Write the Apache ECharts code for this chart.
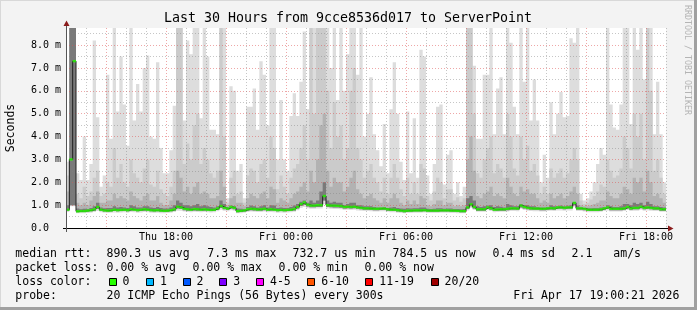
<!DOCTYPE html>
<html><head><meta charset="utf-8">
<script src="https://cdn.jsdelivr.net/npm/echarts@6/dist/echarts.min.js"></script>
<style>html,body{margin:0;padding:0;background:#f3f3f3}#c{width:697px;height:310px}</style>
</head><body><div id="c"></div>
<script>
// 10-minute slots from Thu 13:00 to Fri 19:00 (30 hours, 180 slots), values in ms
const maxV = [
2.9,8.8,8.8,2.4,2.1,4.0,2.1,2.8,8.2,4.85,1.8,2.3,
6.7,3.9,8.8,5.1,7.5,5.4,3.6,8.8,4.7,6.3,5.1,7.0,
7.55,4.0,3.9,7.25,3.5,2.4,2.4,3.4,5.35,8.8,8.8,4.7,
8.2,7.6,8.8,8.8,4.8,8.8,7.5,4.3,4.3,4.1,8.8,8.8,
1.3,6.2,6.0,2.5,2.8,1.3,5.3,5.3,6.1,4.3,7.3,6.7,
4.5,8.8,8.8,3.0,5.6,3.0,2.5,4.9,5.9,4.9,6.4,8.6,
5.2,8.8,8.8,8.8,8.8,8.8,8.8,7.0,8.8,5.6,8.8,6.0,
7.6,8.8,8.8,6.7,8.8,4.0,5.0,6.6,4.1,3.4,2.7,4.55,
2.4,5.2,7.25,5.0,2.9,2.1,5.1,2.4,4.8,2.2,7.8,7.5,
2.3,1.5,2.8,5.3,5.4,1.9,3.2,3.4,1.5,2.0,1.4,1.8,
8.8,8.8,7.1,3.9,3.9,6.7,6.7,8.8,4.1,6.1,6.6,4.1,
8.8,8.1,5.3,4.1,8.8,6.4,8.8,4.7,6.5,4.7,2.0,3.2,
2.2,5.5,4.1,5.0,5.95,4.85,4.9,8.3,8.1,8.8,1.5,1.2,
1.3,1.6,2.0,2.8,3.5,3.2,8.8,5.4,4.4,4.3,5.4,8.8,
8.8,4.55,8.8,7.8,8.8,6.5,8.8,8.8,4.1,6.4,4.1,2.0];
const p90 = [
2.3,8.8,8.8,1.5,1.3,1.8,1.4,1.6,2.2,2.5,1.4,1.5,
2.0,1.8,3.5,2.2,2.8,2.0,1.8,3.0,2.4,2.2,2.0,2.6,
3.0,1.9,1.8,2.5,1.7,1.5,1.4,1.8,2.5,8.8,8.8,2.8,
3.7,3.0,4.5,5.0,2.8,3.5,3.0,2.4,2.2,2.5,8.8,4.0,
1.1,2.2,2.5,1.5,1.6,1.1,2.3,2.6,2.5,2.0,2.8,3.0,
2.2,4.0,3.5,1.7,2.3,1.8,1.5,2.2,2.6,2.8,3.5,4.5,
3.0,8.8,5.0,8.8,8.8,8.8,6.0,3.5,5.5,4.0,4.5,3.0,
3.5,6.0,7.0,3.5,3.0,2.2,2.5,2.8,2.2,2.0,1.6,2.2,
1.5,2.2,2.8,2.2,1.7,1.4,2.2,1.5,2.0,1.5,2.8,2.6,
1.4,1.2,1.6,2.2,2.0,1.3,1.7,1.7,1.2,1.35,1.15,1.3,
8.8,8.8,5.0,2.4,2.2,3.0,3.5,4.0,2.4,2.8,2.6,2.2,
5.0,4.0,2.6,2.3,4.0,3.0,3.6,2.5,2.8,2.3,1.5,1.8,
1.5,2.6,2.2,2.4,2.6,2.2,2.4,3.0,3.5,3.0,1.2,1.05,
1.1,1.25,1.4,1.6,1.9,1.8,3.0,2.5,2.2,2.3,2.6,4.0,
3.5,2.6,5.0,4.0,5.0,3.0,8.8,6.0,2.5,3.0,2.2,1.5];
const p75 = [
1.6,8.8,8.8,1.1,1.0,1.1,1.0,1.2,1.4,1.6,1.1,1.1,
1.2,1.2,1.5,1.3,1.4,1.3,1.2,1.6,1.4,1.3,1.2,1.4,
1.5,1.2,1.2,1.4,1.1,1.0,1.0,1.2,1.5,2.5,2.2,1.6,
1.8,1.5,1.8,2.0,1.5,1.6,1.5,1.3,1.3,1.4,2.5,1.8,
0.98,1.3,1.4,1.1,1.1,0.95,1.3,1.5,1.4,1.3,1.5,1.6,
1.3,1.8,1.7,1.1,1.3,1.2,1.1,1.3,1.5,1.6,1.8,2.0,
1.6,2.5,2.0,3.0,4.5,5.0,2.5,1.8,2.2,2.0,2.0,1.6,
1.8,2.2,2.5,1.7,1.5,1.3,1.4,1.5,1.3,1.2,1.1,1.3,
1.1,1.3,1.5,1.3,1.1,1.0,1.2,1.05,1.2,1.05,1.4,1.3,
1.0,0.95,1.05,1.2,1.2,1.0,1.1,1.1,0.95,1.0,0.95,1.0,
3.0,4.0,2.5,1.4,1.3,1.5,1.6,1.8,1.4,1.5,1.4,1.3,
2.2,1.8,1.5,1.4,1.8,1.6,1.7,1.5,1.5,1.3,1.1,1.2,
1.1,1.5,1.3,1.4,1.5,1.3,1.4,1.6,1.8,1.5,1.0,0.95,
0.95,1.0,1.05,1.1,1.2,1.2,1.6,1.4,1.3,1.3,1.5,1.8,
1.7,1.5,2.2,2.0,2.2,1.6,2.5,2.0,1.4,1.5,1.3,1.1];
const p60 = [
1.0,8.8,8.8,0.85,0.82,0.84,0.83,0.88,0.95,1.1,0.9,0.86,
0.88,0.87,0.95,0.9,0.92,0.9,0.88,1.0,0.95,0.9,0.9,0.95,
0.95,0.9,0.88,0.92,0.87,0.85,0.85,0.9,1.0,1.2,1.1,1.0,
1.0,0.95,1.0,1.05,0.95,1.0,0.95,0.92,0.9,0.95,1.2,1.05,
0.9,0.98,0.95,0.85,0.84,0.83,0.92,0.98,0.95,0.9,0.95,1.0,
0.9,1.0,0.98,0.87,0.9,0.88,0.87,0.92,0.98,1.05,1.15,1.2,
1.1,1.2,1.1,1.2,1.6,2.0,1.2,1.1,1.15,1.1,1.1,1.0,
1.05,1.1,1.1,1.0,1.0,0.95,0.95,0.95,0.92,0.9,0.9,0.92,
0.88,0.9,0.92,0.88,0.85,0.84,0.86,0.85,0.86,0.86,0.9,0.9,
0.84,0.83,0.84,0.86,0.86,0.84,0.85,0.85,0.83,0.83,0.82,0.83,
1.3,1.4,1.2,0.95,0.92,0.95,0.98,1.0,0.92,0.95,0.93,0.9,
1.05,1.0,0.95,0.95,1.05,1.0,1.0,0.95,0.95,0.92,0.9,0.9,
0.92,1.0,0.95,0.96,0.98,0.95,0.97,1.0,1.1,0.98,0.9,0.88,
0.86,0.86,0.87,0.88,0.9,0.92,1.0,0.95,0.92,0.92,0.95,1.05,
1.05,1.0,1.1,1.05,1.1,1.0,1.15,1.05,0.95,0.95,0.92,0.9];
const median = [
0.80,3.0,7.3,0.73,0.74,0.74,0.76,0.78,0.82,0.92,0.80,0.77,
0.76,0.77,0.80,0.78,0.79,0.80,0.78,0.82,0.80,0.78,0.80,0.82,
0.80,0.78,0.77,0.78,0.76,0.75,0.76,0.78,0.82,0.93,0.90,0.84,
0.82,0.80,0.83,0.82,0.80,0.82,0.80,0.79,0.80,0.86,0.96,0.88,
0.85,0.92,0.88,0.74,0.75,0.77,0.82,0.84,0.83,0.81,0.82,0.84,
0.80,0.82,0.80,0.78,0.79,0.78,0.79,0.80,0.83,0.92,1.05,1.12,
1.02,0.98,0.98,1.0,1.0,1.4,1.0,0.98,0.98,0.97,0.96,0.92,
0.93,0.92,0.93,0.90,0.88,0.86,0.86,0.85,0.84,0.84,0.85,0.85,
0.82,0.80,0.80,0.78,0.76,0.74,0.76,0.76,0.77,0.77,0.77,0.78,
0.76,0.76,0.76,0.76,0.77,0.77,0.77,0.76,0.76,0.75,0.74,0.74,
0.90,1.04,0.92,0.82,0.82,0.82,0.90,0.86,0.80,0.81,0.82,0.82,
0.84,0.86,0.86,0.85,0.98,0.92,0.88,0.86,0.85,0.85,0.84,0.84,
0.86,0.87,0.86,0.90,0.90,0.88,0.90,0.90,1.10,0.86,0.86,0.84,
0.80,0.80,0.80,0.80,0.82,0.86,0.90,0.84,0.84,0.84,0.84,0.86,
0.92,0.86,0.88,0.88,0.93,0.88,0.90,0.88,0.86,0.86,0.82,0.82];
const p10 = [
0.75,1.0,1.0,0.69,0.70,0.70,0.72,0.73,0.76,0.84,0.75,0.72,
0.71,0.72,0.74,0.73,0.74,0.75,0.73,0.76,0.75,0.73,0.74,0.76,
0.75,0.73,0.72,0.73,0.71,0.70,0.71,0.73,0.76,0.85,0.83,0.78,
0.76,0.75,0.77,0.76,0.75,0.76,0.75,0.74,0.75,0.80,0.88,0.82,
0.79,0.85,0.82,0.69,0.70,0.72,0.76,0.78,0.77,0.76,0.76,0.78,
0.75,0.76,0.75,0.73,0.74,0.73,0.74,0.75,0.77,0.85,0.96,1.02,
0.94,0.91,0.91,0.92,0.92,1.2,0.92,0.91,0.90,0.90,0.89,0.85,
0.86,0.85,0.86,0.84,0.82,0.80,0.80,0.79,0.78,0.78,0.79,0.79,
0.76,0.74,0.74,0.72,0.71,0.69,0.71,0.71,0.72,0.72,0.72,0.73,
0.71,0.71,0.71,0.71,0.72,0.72,0.72,0.71,0.71,0.70,0.69,0.69,
0.83,0.95,0.85,0.76,0.76,0.76,0.84,0.80,0.75,0.75,0.76,0.76,
0.78,0.80,0.80,0.79,0.90,0.85,0.82,0.80,0.79,0.79,0.78,0.78,
0.80,0.81,0.80,0.84,0.84,0.82,0.84,0.84,1.0,0.80,0.80,0.78,
0.74,0.74,0.74,0.74,0.76,0.80,0.84,0.78,0.78,0.78,0.78,0.80,
0.85,0.80,0.82,0.82,0.86,0.82,0.84,0.82,0.80,0.80,0.76,0.76];
const minV = [
0.70,0.95,0.95,0.64,0.64,0.65,0.66,0.67,0.70,0.74,0.69,0.67,
0.66,0.67,0.68,0.67,0.68,0.69,0.67,0.70,0.69,0.67,0.68,0.70,
0.69,0.67,0.66,0.67,0.65,0.65,0.66,0.67,0.70,0.76,0.75,0.72,
0.70,0.69,0.71,0.70,0.69,0.70,0.69,0.68,0.69,0.73,0.80,0.75,
0.73,0.78,0.75,0.64,0.65,0.67,0.70,0.72,0.71,0.70,0.70,0.72,
0.69,0.70,0.69,0.67,0.68,0.67,0.68,0.69,0.71,0.78,0.88,0.92,
0.86,0.84,0.84,0.85,0.85,1.05,0.85,0.84,0.83,0.83,0.82,0.79,
0.80,0.79,0.80,0.77,0.76,0.74,0.74,0.73,0.72,0.72,0.73,0.73,
0.71,0.69,0.69,0.67,0.66,0.64,0.66,0.66,0.67,0.67,0.67,0.68,
0.66,0.66,0.66,0.66,0.67,0.67,0.67,0.66,0.66,0.65,0.64,0.64,
0.77,0.88,0.79,0.71,0.71,0.71,0.78,0.74,0.69,0.70,0.71,0.71,
0.72,0.74,0.74,0.73,0.84,0.79,0.76,0.74,0.73,0.73,0.72,0.72,
0.74,0.75,0.74,0.77,0.77,0.76,0.77,0.77,0.94,0.74,0.74,0.72,
0.69,0.69,0.69,0.69,0.71,0.74,0.77,0.72,0.72,0.72,0.72,0.74,
0.79,0.74,0.76,0.76,0.80,0.76,0.77,0.76,0.74,0.74,0.71,0.71];

const xTickHours = [5, 11, 17, 23, 29];
const xTickLabels = ['Thu 18:00', 'Fri 00:00', 'Fri 06:00', 'Fri 12:00', 'Fri 18:00'];
const yTickLabels = ['0.0', '1.0 m', '2.0 m', '3.0 m', '4.0 m', '5.0 m', '6.0 m', '7.0 m', '8.0 m'];
const lossLabels = ['0', '1', '2', '3', '4-5', '6-10', '11-19', '20/20'];
const lossColors = ['#26ff00', '#00b8ff', '#0059ff', '#7e00ff', '#ff00ff', '#ff5500', '#ff0000', '#a00000'];

const FONT = '"DejaVu Sans Mono", monospace';
const SLOTS_PER_HOUR = 6;
const N = median.length;

function pts(arr) {
  const out = arr.map((v, i) => [i / SLOTS_PER_HOUR, v]);
  out.push([N / SLOTS_PER_HOUR, arr[N - 1]]);
  return out;
}
// one step-shaped polygon per smoke layer, positioned through the axes' scales
function layer(lower, upper, color) {
  return {
    type: 'custom', data: [[0, 0]], silent: true, z: 2, clip: true,
    renderItem: function (params, api) {
      const top = [], bot = [];
      for (let i = 0; i < N; i++) {
        const x0 = i / SLOTS_PER_HOUR, x1 = (i + 1) / SLOTS_PER_HOUR;
        top.push(api.coord([x0, upper[i]]), api.coord([x1, upper[i]]));
        bot.push(api.coord([x0, lower[i]]), api.coord([x1, lower[i]]));
      }
      return {type: 'polygon', shape: {points: top.concat(bot.reverse())}, style: {fill: color, stroke: null}};
    }
  };
}

const minorC = 'rgba(128,128,128,0.45)';
const majorC = 'rgba(222,80,80,0.5)';

const series = [
  layer(minV, maxV, '#dddddd'),
  layer(p10, p90, '#cbcbcb'),
  layer(p10, p75, '#b2b2b2'),
  layer(p10, p60, '#7a7a7a'),
  {type: 'line', data: pts(median), step: 'end', symbol: 'none', silent: true,
   lineStyle: {width: 1, color: '#202020'}, z: 4},
  {type: 'scatter', data: median.map((v, i) => [(i + 0.5) / SLOTS_PER_HOUR, v]), symbol: 'rect',
   symbolSize: [3.4, 2.4], itemStyle: {color: lossColors[0]}, silent: true, z: 5}
];

const txt = (x, y, text, size, extra) => ({
  type: 'text', x: x, y: y, z: 10, silent: true,
  style: Object.assign({text: text, font: size + 'px ' + FONT, fill: '#000', align: 'left', verticalAlign: 'middle'}, extra || {})
});

const graphics = [
  {type: 'rect', shape: {x: 0, y: 0, width: 697, height: 1}, style: {fill: '#d8d8d8'}, z: 10, silent: true},
  {type: 'rect', shape: {x: 0, y: 0, width: 1, height: 310}, style: {fill: '#d8d8d8'}, z: 10, silent: true},
  {type: 'rect', shape: {x: 0, y: 307, width: 697, height: 3}, style: {fill: '#a0a0a0'}, z: 10, silent: true},
  {type: 'rect', shape: {x: 694, y: 0, width: 3, height: 310}, style: {fill: '#a0a0a0'}, z: 10, silent: true},
  {type: 'line', shape: {x1: 63, y1: 228.5, x2: 668, y2: 228.5}, style: {stroke: '#000', lineWidth: 1}, z: 10, silent: true},
  {type: 'line', shape: {x1: 66.5, y1: 232, x2: 66.5, y2: 25}, style: {stroke: '#555', lineWidth: 1}, z: 10, silent: true},
  {type: 'polygon', shape: {points: [[668, 225.5], [673.5, 228.5], [668, 231.5]]}, style: {fill: '#8b1c1c'}, z: 10, silent: true},
  {type: 'polygon', shape: {points: [[63.5, 26], [66.5, 20.5], [69.5, 26]]}, style: {fill: '#8b1c1c'}, z: 10, silent: true},
  txt(348, 19, 'Last 30 Hours from 9cce8536d017 to ServerPoint', 13.3, {align: 'center'}),
  Object.assign(txt(11, 128, 'Seconds', 11.5, {align: 'center'}), {rotation: Math.PI / 2}),
  Object.assign(txt(687, 60, 'RRDTOOL / TOBI OETIKER', 8.3, {align: 'center', fill: '#b4b4b4'}), {rotation: -Math.PI / 2}),
  txt(15.3, 254, 'median rtt:', 11.5), txt(106.6, 254, '890.3 us avg', 11.5), txt(207.3, 254, '7.3 ms max', 11.5),
  txt(292.6, 254, '732.7 us min', 11.5), txt(392.6, 254, '784.5 us now', 11.5), txt(492.6, 254, '0.4 ms sd', 11.5),
  txt(571.6, 254, '2.1', 11.5), txt(613.3, 254, 'am/s', 11.5),
  txt(15.3, 268, 'packet loss:', 11.5), txt(106.6, 268, '0.00 % avg', 11.5), txt(192.6, 268, '0.00 % max', 11.5),
  txt(278.6, 268, '0.00 % min', 11.5), txt(364.6, 268, '0.00 % now', 11.5),
  txt(15.3, 282, 'loss color:', 11.5),
  txt(15.3, 296, 'probe:', 11.5), txt(106.6, 296, '20 ICMP Echo Pings (56 Bytes) every 300s', 11.5),
  txt(513.3, 296, 'Fri Apr 17 19:00:21 2026', 11.5)
];
const boxX = [108.7, 146, 182.7, 219.3, 256, 307.3, 365.3, 430.7];
const lblX = [123.3, 160.7, 197.3, 234, 270.7, 322, 380, 445.3];
lossLabels.forEach((l, i) => {
  graphics.push({type: 'rect', shape: {x: Math.round(boxX[i]) + 0.5, y: 278.5, width: 7, height: 7},
    style: {fill: lossColors[i], stroke: '#000', lineWidth: 1}, z: 10, silent: true});
  graphics.push(txt(lblX[i] - 0.7, 282, l, 11.5));
});

const chart = echarts.init(document.getElementById('c'), null, {renderer: 'canvas', width: 697, height: 310});
chart.setOption({
  animation: false,
  backgroundColor: '#f3f3f3',
  grid: {left: 66, top: 28, width: 600, height: 200, backgroundColor: '#ffffff', show: true, borderWidth: 0},
  xAxis: {
    type: 'value', min: 0, max: 30, interval: 1, z: 3,
    axisLine: {show: false}, axisTick: {show: false},
    axisLabel: {
      formatter: v => { const k = xTickHours.indexOf(Math.round(v)); return k >= 0 ? xTickLabels[k] : ''; },
      fontFamily: FONT, fontSize: 10, color: '#000', margin: 4
    },
    splitLine: {show: true, lineStyle: {color: [minorC, minorC, majorC], type: [1, 2], width: 1}}
  },
  yAxis: {
    type: 'value', min: 0, max: 8.75, interval: 0.5, z: 3,
    axisLine: {show: false}, axisTick: {show: false},
    axisLabel: {
      formatter: v => { const r = Math.round(v); return Math.abs(v - r) < 1e-6 ? (yTickLabels[r] || '') : ''; },
      fontFamily: FONT, fontSize: 10, color: '#000', align: 'left', margin: 35
    },
    splitLine: {show: true, showMaxLine: false, lineStyle: {color: [majorC, minorC], type: [1, 2], width: 1}}
  },
  series: series,
  graphic: graphics
});
</script>
</body></html>
